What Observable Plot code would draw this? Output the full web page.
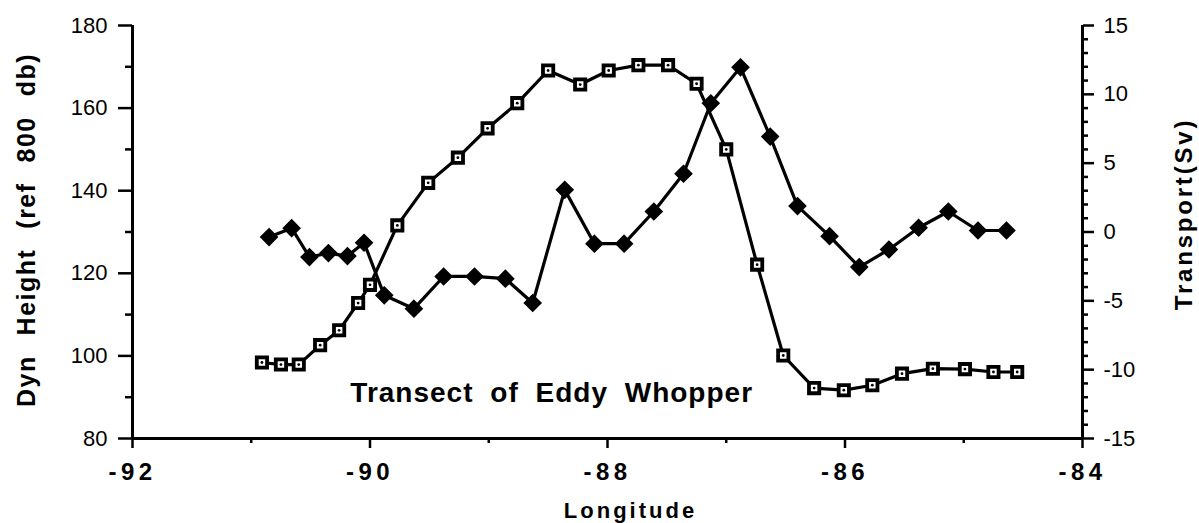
<!DOCTYPE html>
<html><head><meta charset="utf-8">
<script src="https://cdn.jsdelivr.net/npm/d3@7"></script>
<script src="https://cdn.jsdelivr.net/npm/@observablehq/plot@0.6"></script>
<style>
html,body{margin:0;padding:0;background:#fff;}
svg{display:block;}
g[aria-label="x-axis tick label"] text{letter-spacing:4.5px;}
</style>
</head><body>
<script>
// Dynamic height (open squares, left axis)
const lonDyn = [-90.91,-90.75,-90.60,-90.42,-90.26,-90.10,-90.00,-89.77,-89.51,-89.26,-89.01,-88.76,-88.50,-88.23,-87.99,-87.74,-87.49,-87.25,-87.00,-86.74,-86.52,-86.26,-86.01,-85.77,-85.52,-85.26,-84.99,-84.75,-84.55];
const dynHeight = [98.4,97.9,97.9,102.6,106.2,112.8,117.2,131.6,141.9,148.0,155.1,161.2,169.1,165.7,169.1,170.4,170.4,165.9,150.0,122.1,100.1,92.2,91.7,92.9,95.7,96.9,96.8,96.1,96.1];

// Transport (filled diamonds, right axis)
const lonTransport = [-90.85,-90.66,-90.51,-90.35,-90.19,-90.05,-89.88,-89.63,-89.38,-89.12,-88.86,-88.63,-88.36,-88.11,-87.86,-87.61,-87.36,-87.13,-86.88,-86.63,-86.40,-86.13,-85.88,-85.63,-85.38,-85.13,-84.88,-84.64];
const transport = [-0.37,0.28,-1.82,-1.53,-1.75,-0.78,-4.60,-5.57,-3.23,-3.23,-3.39,-5.16,3.06,-0.85,-0.85,1.49,4.23,9.35,11.96,6.93,1.88,-0.30,-2.55,-1.27,0.31,1.49,0.11,0.11];

// Axes
const lonDomain = [-92, -84];
const lonTicks = [-92, -90, -88, -86, -84];
const lonMinor = [-91, -89, -87, -85];
const dynDomain = [80, 180];
const dynTicks = [80, 100, 120, 140, 160, 180];
const dynMinor = [90, 110, 130, 150, 170];
const transportDomain = [-15, 15];
const transportTicks = [-15, -10, -5, 0, 5, 10, 15];
const transportMinor = [-14,-13,-12,-11,-9,-8,-7,-6,-4,-3,-2,-1,1,2,3,4,6,7,8,9,11,12,13,14];

// Texts
const xTitle = "Longitude";
const yLeftTitle = "Dyn Height (ref 800 db)";
const yRightTitle = "Transport(Sv)";
const noteText = ["Transect of Eddy Whopper"];
const noteLon = [-88.47];
const noteDyn = [90.9];

// map transport onto the dynamic-height scale (twin axis)
const toDyn = d3.scaleLinear(transportDomain, dynDomain);

const dynData = lonDyn.map((lon, i) => ({lon, v: dynHeight[i]}));
const trData = lonTransport.map((lon, i) => ({lon, v: toDyn(transport[i])}));
const notes = noteText.map((t, i) => ({t, lon: noteLon[i], v: noteDyn[i]}));

const diamond = {
  draw(ctx, size) {
    const r = Math.sqrt(size / 2);
    ctx.moveTo(0, -r); ctx.lineTo(r, 0); ctx.lineTo(0, r); ctx.lineTo(-r, 0); ctx.closePath();
  }
};

const fmt = d => String(d);

const chart = Plot.plot({
  width: 1199,
  height: 523,
  marginLeft: 132,
  marginRight: 117,
  marginTop: 25,
  marginBottom: 85,
  style: {fontFamily: "'Liberation Sans', Arial, sans-serif", color: "#000", background: "#fff", overflow: "visible"},
  x: {domain: lonDomain},
  y: {domain: dynDomain},
  marks: [
    // axis frame
    Plot.ruleX([lonDomain[0]], {strokeWidth: 3}),
    Plot.ruleX([lonDomain[1]], {strokeWidth: 3}),
    Plot.ruleY([dynDomain[0]], {strokeWidth: 3}),
    // bottom axis
    Plot.axisX({anchor: "bottom", ticks: lonTicks, tickSize: 10, tickPadding: 14, tickFormat: fmt, fontSize: 24, fontWeight: "bold", strokeWidth: 2.5, label: null}),
    Plot.axisX({anchor: "bottom", ticks: lonMinor, tickSize: 5, tickFormat: () => "", strokeWidth: 2.5, label: null}),
    // left axis
    Plot.axisY({anchor: "left", ticks: dynTicks, tickSize: 14, tickPadding: 11, tickFormat: fmt, fontSize: 22, strokeWidth: 2.5, label: null}),
    Plot.axisY({anchor: "left", ticks: dynMinor, tickSize: 7, tickFormat: () => "", strokeWidth: 2.5, label: null}),
    // right axis (transport)
    Plot.axisY({anchor: "right", ticks: transportTicks.map(toDyn), tickSize: 11, tickPadding: 10, tickFormat: y => fmt(Math.round(toDyn.invert(y))), fontSize: 22, strokeWidth: 2.5, label: null}),
    Plot.axisY({anchor: "right", ticks: transportMinor.map(toDyn), tickSize: 5, tickFormat: () => "", strokeWidth: 2.5, label: null}),
    // titles
    Plot.text([xTitle], {text: d => d, frameAnchor: "bottom", dx: 23, dy: 72, fontSize: 22, fontWeight: "bold", lineAnchor: "middle", textAnchor: "middle"}),
    Plot.text([yLeftTitle], {text: d => d, frameAnchor: "left", rotate: -90, dx: -106, dy: -2, fontSize: 25, fontWeight: "bold", lineAnchor: "middle", textAnchor: "middle"}),
    Plot.text([yRightTitle], {text: d => d, frameAnchor: "right", rotate: -90, dx: 102, dy: -18, fontSize: 24, fontWeight: "bold", lineAnchor: "middle", textAnchor: "middle"}),
    // series lines
    Plot.line(dynData, {x: "lon", y: "v", stroke: "#000", strokeWidth: 3.2}),
    Plot.line(trData, {x: "lon", y: "v", stroke: "#000", strokeWidth: 3.2}),
    // markers
    Plot.dot(trData, {x: "lon", y: "v", symbol: diamond, r: 6.6, fill: "#000", stroke: "#000", strokeWidth: 1.5}),
    Plot.dot(dynData, {x: "lon", y: "v", symbol: "square", r: 5.8, fill: "#fff", stroke: "#000", strokeWidth: 3.8}),
    Plot.dot(dynData, {x: "lon", y: "v", r: 1.4, fill: "#000", stroke: null}),
    // annotation
    Plot.text(notes, {x: "lon", y: "v", text: "t", fontSize: 28, fontWeight: "bold", lineAnchor: "middle", textAnchor: "middle"})
  ]
});
document.body.appendChild(chart);

// letter and word spacing of the titles
const spacing = new Map([
  [xTitle, ["3px", "0px"]],
  [yLeftTitle, ["1.5px", "11.5px"]],
  [yRightTitle, ["2.8px", "0px"]],
  [noteText[0], ["1px", "8px"]]
]);
d3.select(chart).selectAll("text").each(function () {
  const s = spacing.get(this.textContent);
  if (s) { this.style.letterSpacing = s[0]; this.style.wordSpacing = s[1]; }
});
</script>
</body></html>
